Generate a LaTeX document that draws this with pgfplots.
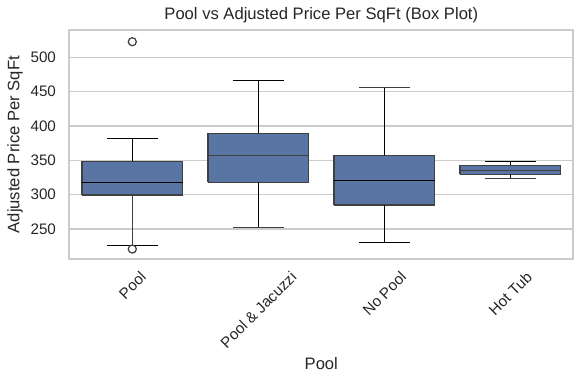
\documentclass[border=0pt]{standalone}
\usepackage{graphicx}
\usepackage{fontspec}
\setmainfont{Liberation Sans}
\usepackage{pgfplots}
\pgfplotsset{compat=1.18}
\definecolor{boxfill}{HTML}{5875A3}
\definecolor{linegray}{HTML}{404040}
\definecolor{gridgray}{HTML}{CCCCCC}
\definecolor{textgray}{HTML}{262626}
\begin{document}
\begin{tikzpicture}
\begin{axis}[
  at={(0,0)}, anchor=south west,
  scale only axis,
  width=362.9bp, height=165.1bp,
  xmin=-0.5, xmax=3.5,
  ymin=205.9, ymax=539.8,
  xtick={0,1,2,3},
  xticklabels={\rotatebox{45}{Pool},\rotatebox{45}{Pool \& Jacuzzi},\rotatebox{45}{No Pool},\rotatebox{45}{Hot Tub}},
  ytick={250,300,350,400,450,500},
  tick style={draw=none},
  ymajorgrids=true,
  grid style={draw=gridgray, line width=1bp},
  axis line style={draw=gridgray, line width=1.25bp},
  /pgf/number format/assume math mode=true,
  ticklabel style={font=\fontsize{11}{13}\selectfont, text=textgray},
  yticklabel style={inner sep=0pt, xshift=-9.4bp},
  xticklabel style={inner sep=0pt, anchor=north, yshift=-8bp},
  xlabel={Pool},
  ylabel={Adjusted Price Per SqFt},
  label style={font=\fontsize{12}{14}\selectfont, text=textgray},
  xlabel style={at={(axis description cs:0.5,0)}, anchor=base, yshift=-79.7bp},
  ylabel style={at={(axis description cs:0,0.5)}, anchor=base, yshift=36bp},
  clip=false,
  cycle list={{draw=linegray, solid, mark=none, line width=1.1bp}},
]
% ---------- Pool: lw 226.2, q1 299.5, med 318.0, q3 348.6, uw 382.0
\addplot[fill=boxfill, draw=linegray, line width=1.1bp] coordinates {(-0.4,299.5) (0.4,299.5) (0.4,348.6) (-0.4,348.6) (-0.4,299.5)};
\addplot coordinates {(-0.4,318.0) (0.4,318.0)};
\addplot coordinates {(0,348.6) (0,382.0)};
\addplot coordinates {(-0.2,382.0) (0.2,382.0)};
\addplot coordinates {(0,299.5) (0,226.2)};
\addplot coordinates {(-0.2,226.2) (0.2,226.2)};
\addplot[only marks, mark=o, mark size=2.9bp, mark options={draw=linegray, line width=0.9bp}] coordinates {(0,522.7) (0,220.8)};
% ---------- Pool & Jacuzzi: lw 252.4, q1 318.0, med 357.3, q3 389.3, uw 466.5
\addplot[fill=boxfill, draw=linegray, line width=1.1bp] coordinates {(0.6,318.0) (1.4,318.0) (1.4,389.3) (0.6,389.3) (0.6,318.0)};
\addplot coordinates {(0.6,357.3) (1.4,357.3)};
\addplot coordinates {(1,389.3) (1,466.5)};
\addplot coordinates {(0.8,466.5) (1.2,466.5)};
\addplot coordinates {(1,318.0) (1,252.4)};
\addplot coordinates {(0.8,252.4) (1.2,252.4)};
% ---------- No Pool: lw 231.0, q1 284.9, med 320.9, q3 357.3, uw 456.3
\addplot[fill=boxfill, draw=linegray, line width=1.1bp] coordinates {(1.6,284.9) (2.4,284.9) (2.4,357.3) (1.6,357.3) (1.6,284.9)};
\addplot coordinates {(1.6,320.9) (2.4,320.9)};
\addplot coordinates {(2,357.3) (2,456.3)};
\addplot coordinates {(1.8,456.3) (2.2,456.3)};
\addplot coordinates {(2,284.9) (2,231.0)};
\addplot coordinates {(1.8,231.0) (2.2,231.0)};
% ---------- Hot Tub: lw 323.8, q1 329.6, med 335.4, q3 342.7, uw 348.6
\addplot[fill=boxfill, draw=linegray, line width=1.1bp] coordinates {(2.6,329.6) (3.4,329.6) (3.4,342.7) (2.6,342.7) (2.6,329.6)};
\addplot coordinates {(2.6,335.4) (3.4,335.4)};
\addplot coordinates {(3,342.7) (3,348.6)};
\addplot coordinates {(2.8,348.6) (3.2,348.6)};
\addplot coordinates {(3,329.6) (3,323.8)};
\addplot coordinates {(2.8,323.8) (3.2,323.8)};
\node[anchor=base, font=\fontsize{12}{14}\selectfont, text=textgray]
  at (rel axis cs:0.5,1) [yshift=7.2bp] {Pool vs Adjusted Price Per SqFt (Box Plot)};
\end{axis}
\useasboundingbox (-49.9bp,-89.8bp) rectangle (370.6bp,186.7bp);
\end{tikzpicture}
\end{document}
